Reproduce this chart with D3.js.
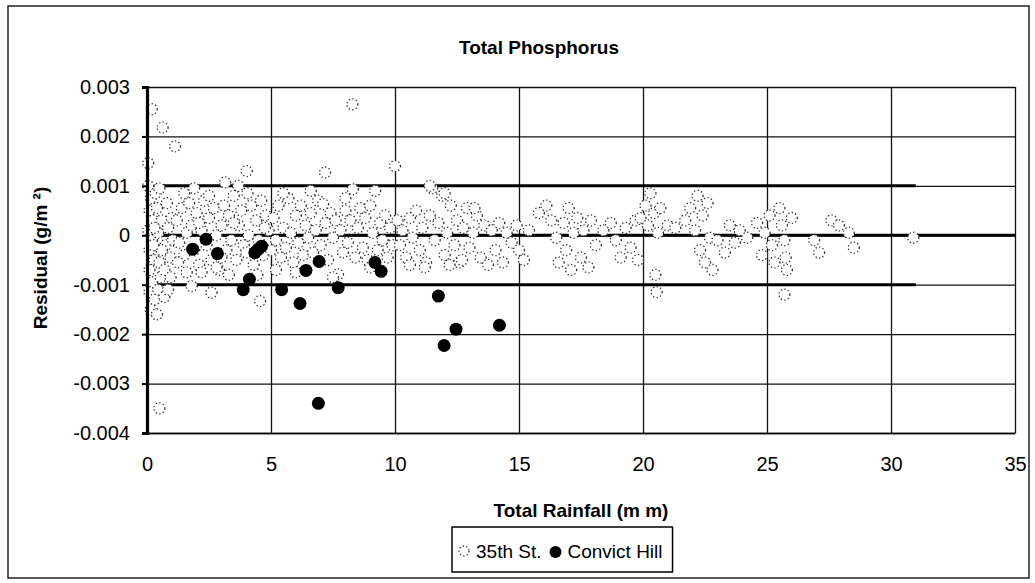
<!DOCTYPE html>
<html><head><meta charset="utf-8">
<script src="https://cdn.jsdelivr.net/npm/d3@7"></script>
<style>
html,body{margin:0;padding:0;background:#fff;}
text{font-family:"Liberation Sans",Arial,sans-serif;fill:#000;}
</style></head>
<body><svg id="c" width="1035" height="583"></svg>
<script>
// ---------- data ----------
const xTicks = [0, 5, 10, 15, 20, 25, 30, 35];
const xTickLabels = ["0", "5", "10", "15", "20", "25", "30", "35"];
const yTicks = [-0.004, -0.003, -0.002, -0.001, 0, 0.001, 0.002, 0.003];
const yTickLabels = ["-0.004", "-0.003", "-0.002", "-0.001", "0", "0.001", "0.002", "0.003"];
const refLines = [0.001, 0, -0.001];

const convictRain = [1.84, 2.38, 2.84, 3.88, 4.13, 4.35, 4.49, 4.62, 5.43, 6.17, 6.41, 6.94, 7.71, 6.91, 9.19, 9.44, 11.75, 12.46, 11.98, 14.21];
const convictResid = [-0.00028, -0.00008, -0.00037, -0.0011, -0.00089, -0.00035, -0.00028, -0.00022, -0.0011, -0.00138, -0.00071, -0.00053, -0.00106, -0.0034, -0.00055, -0.00073, -0.00123, -0.0019, -0.00223, -0.00182];

const st35Rain = [
 0.19,0.63,1.13,0.05,0.5,
 0.05,0.15,0.1,0.25,0.05,0.2,0.1,0.3,0.1,0.2,0.1,0.3,0.15,0.4,0.45,0.55,0.7,0.5,0.45,0.4,0.6,0.75,0.85,0.95,0.8,0.35,1.0,1.05,0.7,0.95,0.3,0.6,0.85,0.5,0.25,
 1.2,1.3,1.4,1.5,1.6,1.7,1.8,1.9,2.0,2.1,2.2,2.3,2.4,2.5,2.6,2.7,2.8,2.9,3.0,3.1,3.2,3.3,3.4,3.5,3.6,3.7,3.8,3.9,4.05,4.1,4.2,4.3,4.4,4.5,4.6,4.7,4.8,4.9,5.0,
 1.8,2.6,4.56,3.15,3.68,4.02,1.6,2.2,2.8,3.3,1.5,2.5,4.45,1.25,1.9,3.0,4.0,3.5,2.1,4.75,
 5.1,5.2,5.3,5.4,5.5,5.6,5.7,5.8,5.9,6.0,6.1,6.2,6.3,6.4,6.5,6.6,6.7,6.8,6.9,7.0,7.1,7.2,7.3,7.4,7.5,7.6,7.7,7.8,7.9,8.0,8.1,8.2,8.3,8.4,8.5,8.6,8.7,8.8,8.9,9.0,9.1,9.2,9.3,9.4,9.5,9.6,9.7,9.8,9.9,10.0,
 8.28,7.18,7.5,6.0,5.5,8.0,9.0,6.6,5.2,
 10.1,10.2,10.3,10.45,10.6,10.7,10.85,11.0,11.1,11.25,11.4,11.5,11.6,11.75,11.9,12.0,12.1,12.25,12.4,12.5,12.6,12.75,12.9,13.0,13.15,13.3,13.45,13.6,13.75,13.9,14.05,14.2,14.35,14.5,14.7,14.9,11.2,12.2,12.7,11.4,12.0,10.6,13.2,
 15.0,15.2,15.4,15.8,16.1,16.3,16.5,16.6,16.8,16.9,17.0,17.1,17.2,17.35,17.5,17.6,17.8,17.9,18.1,18.4,18.7,18.9,19.1,19.3,19.5,19.7,19.8,
 19.9,20.1,20.2,20.3,20.45,20.5,20.55,20.6,20.7,21.0,21.3,21.7,21.9,22.1,22.2,22.3,22.4,22.5,22.6,22.7,22.8,23.0,23.3,23.5,23.7,23.9,24.2,24.6,24.8,24.9,25.1,25.2,25.3,25.5,25.6,25.7,25.75,25.8,25.7,26.0,
 26.9,27.1,27.6,27.9,28.3,28.5,30.9
];
const st35Resid = [
 0.00255,0.00218,0.0018,0.00146,-0.0035,
 0.001,0.00075,0.0005,0.0003,0.0001,-0.0001,-0.0003,-0.0005,-0.0007,-0.00095,-0.00115,-0.0013,-0.0015,-0.0016,-0.0011,-0.00085,-0.00125,-0.00055,0.00005,0.00055,0.0003,-0.0002,0.00015,-0.00045,0.00065,0.00085,0.00035,-0.0001,-0.0007,-0.00085,0.00015,-0.0003,-0.0011,0.00095,-0.0002,
 0.0003,-0.00015,0.00055,-0.0004,0.00005,0.00065,0.0002,-0.0003,0.00045,-0.0006,0.0001,0.0007,-0.0002,0.00035,-0.0005,0.00055,0.0,-0.0007,0.0002,0.0006,-0.0003,0.0004,-0.0001,0.0008,-0.0005,0.0002,0.0005,-0.0002,0.00085,0.0,0.0006,-0.0006,0.0003,-0.0001,0.0007,-0.0004,0.0004,0.0001,-0.0003,
 -0.00103,-0.00116,-0.00133,0.00107,0.001,0.0013,-0.00075,-0.00075,-0.00065,-0.0008,0.00085,0.0008,-0.0008,-0.00055,0.00095,-0.00045,-0.00035,0.00025,0.00025,0.00015,
 0.00035,-0.0001,0.0006,-0.00045,0.00015,-0.00025,0.00075,0.00005,-0.00055,0.0004,-0.00015,0.0006,-0.0004,0.0002,-0.00005,0.00045,-0.00035,0.0001,0.0007,-0.0002,0.00063,0.00025,-0.0005,0.00045,-0.00005,0.0003,-0.00079,0.0001,-0.00035,0.0005,-0.00015,0.0003,0.00093,-0.00045,0.00015,0.00055,-0.00025,0.00035,-0.0005,0.0006,0.00005,0.0009,-0.0003,0.00025,-0.0001,0.0004,-0.00045,0.00015,-0.0002,0.0014,
 0.00265,0.00127,-0.00085,-0.00075,0.00085,0.00075,-0.00065,0.0009,-0.0007,
 0.0003,-0.0002,0.0001,-0.00045,0.00035,-0.00005,0.0005,-0.0003,0.00015,-0.00055,0.0004,0.00095,-0.0001,0.00025,0.0008,-0.0004,0.00005,0.0006,-0.0002,0.0003,-0.00055,0.00015,0.00055,-0.00025,0.00005,0.0004,-0.00045,0.0002,-0.0006,0.0001,-0.0003,0.00025,-0.00055,0.00005,-0.00015,0.0002,-0.00065,-0.0006,-0.0005,0.001,0.00085,-0.0006,0.00055,
 -0.0003,-0.0005,0.0001,0.00045,0.0006,0.0003,-0.00005,-0.00055,0.00025,-0.0003,0.00055,-0.0007,0.00005,0.00035,-0.00045,0.0001,-0.00065,0.0003,-0.0002,0.0001,0.00025,-0.0001,-0.00045,0.00015,-0.00025,0.0003,-0.0005,
 0.00035,0.0006,0.0002,0.00085,0.00045,-0.0008,-0.00115,0.00005,0.00055,0.0002,0.00015,0.0003,0.00055,0.0001,0.0008,-0.0003,0.0004,-0.00055,0.00065,-0.00005,-0.0007,-0.0001,-0.00035,0.0002,-0.00015,0.0001,-0.00005,0.00025,-0.0004,0.00005,0.0004,-0.0002,-0.00055,0.00055,0.0002,-0.0001,-0.00045,-0.0007,-0.0012,0.00035,
 -0.0001,-0.00035,0.0003,0.0002,0.00005,-0.00025,-0.00005
];

// ---------- chart ----------
const svg = d3.select("#c");
const L = 147, R = 1015, T = 87, B = 433;
const x = d3.scaleLinear().domain([0, 35]).range([L, R]);
const y = d3.scaleLinear().domain([-0.004, 0.003]).range([B, T]);

// outer frame
svg.append("rect").attr("x", 8).attr("y", 6).attr("width", 1021).attr("height", 572)
  .attr("fill", "none").attr("stroke", "#222").attr("stroke-width", 1.5);

// gridlines
const gy = svg.append("g").attr("transform", `translate(${L},0)`)
  .call(d3.axisLeft(y).tickValues(yTicks).tickSize(-(R - L)).tickFormat(""));
gy.select(".domain").remove();
gy.selectAll("line").attr("stroke", "#111").attr("stroke-width", 1.3);
const gx = svg.append("g").attr("transform", `translate(0,${B})`)
  .call(d3.axisBottom(x).tickValues(xTicks).tickSize(-(B - T)).tickFormat(""));
gx.select(".domain").remove();
gx.selectAll("line").attr("stroke", "#111").attr("stroke-width", 1.3);

// reference lines (heavy)
const refStart = [0.3, 0, 0.3], refEnd = [31, 35, 31];
svg.append("g").selectAll("line").data(refLines).join("line")
  .attr("x1", (d, i) => x(refStart[i])).attr("x2", (d, i) => x(refEnd[i]))
  .attr("y1", d => y(d)).attr("y2", d => y(d))
  .attr("stroke", "#000").attr("stroke-width", 3);

// bottom axis
const ax = svg.append("g").attr("transform", `translate(0,${B})`)
  .call(d3.axisBottom(x).tickValues(xTicks).tickSize(0).tickPadding(24)
    .tickFormat((d, i) => xTickLabels[i]));
ax.select(".domain").attr("stroke", "#000").attr("stroke-width", 1.6);
ax.selectAll("text").style("font-size", "20px").style("font-family", "'Liberation Sans',Arial,sans-serif");

// 35th St. markers
const st = st35Rain.map((r, i) => [r, st35Resid[i]]);
svg.append("g").selectAll("circle").data(st).join("circle")
  .attr("cx", d => x(d[0])).attr("cy", d => y(d[1])).attr("r", 5.5)
  .attr("fill", "#fff").attr("stroke", "#333").attr("stroke-width", 1.3)
  .attr("stroke-dasharray", "1.3 2.3");

// left axis
const ay = svg.append("g").attr("transform", `translate(${L},0)`)
  .call(d3.axisLeft(y).tickValues(yTicks).tickSize(5).tickPadding(12)
    .tickFormat((d, i) => yTickLabels[i]));
ay.select(".domain").attr("stroke", "#000").attr("stroke-width", 3.2);
ay.selectAll(".tick line").attr("stroke", "#000").attr("stroke-width", 2);
ay.selectAll("text").style("font-size", "20px").style("font-family", "'Liberation Sans',Arial,sans-serif");

// Convict Hill
const ch = convictRain.map((r, i) => [r, convictResid[i]]);
svg.append("g").selectAll("circle").data(ch).join("circle")
  .attr("cx", d => x(d[0])).attr("cy", d => y(d[1])).attr("r", 6.5)
  .attr("fill", "#000");

// titles
svg.append("text").attr("x", 539).attr("y", 54).attr("text-anchor", "middle")
  .style("font-size", "19px").style("font-weight", "bold").text("Total Phosphorus");
svg.append("text").attr("x", (L + R) / 2).attr("y", 517).attr("text-anchor", "middle")
  .style("font-size", "19px").style("font-weight", "bold").text("Total Rainfall (m m)");
svg.append("text").attr("transform", "translate(47,258) rotate(-90)").attr("text-anchor", "middle")
  .style("font-size", "19px").style("font-weight", "bold").text("Residual (g/m \u00B2)");

// legend
const lg = svg.append("g");
const lgX = 452, lgY = 527, lgH = 45;
const box = lg.append("rect").attr("x", lgX).attr("y", lgY).attr("height", lgH)
  .attr("fill", "#fff").attr("stroke", "#000").attr("stroke-width", 1.5);
lg.append("circle").attr("cx", lgX + 12).attr("cy", lgY + 24).attr("r", 5)
  .attr("fill", "#fff").attr("stroke", "#333").attr("stroke-width", 1.3).attr("stroke-dasharray", "1.3 2.3");
const t1 = lg.append("text").attr("x", lgX + 24).attr("y", lgY + 31).style("font-size", "19px").text("35th St.");
const w1 = t1.node().getComputedTextLength();
const dotX = lgX + 24 + w1 + 14;
lg.append("circle").attr("cx", dotX).attr("cy", lgY + 25).attr("r", 6).attr("fill", "#000");
const t2 = lg.append("text").attr("x", dotX + 12).attr("y", lgY + 31).style("font-size", "19px").text("Convict Hill");
const w2 = t2.node().getComputedTextLength();
box.attr("width", dotX + 12 + w2 + 10 - lgX);
</script></body></html>
